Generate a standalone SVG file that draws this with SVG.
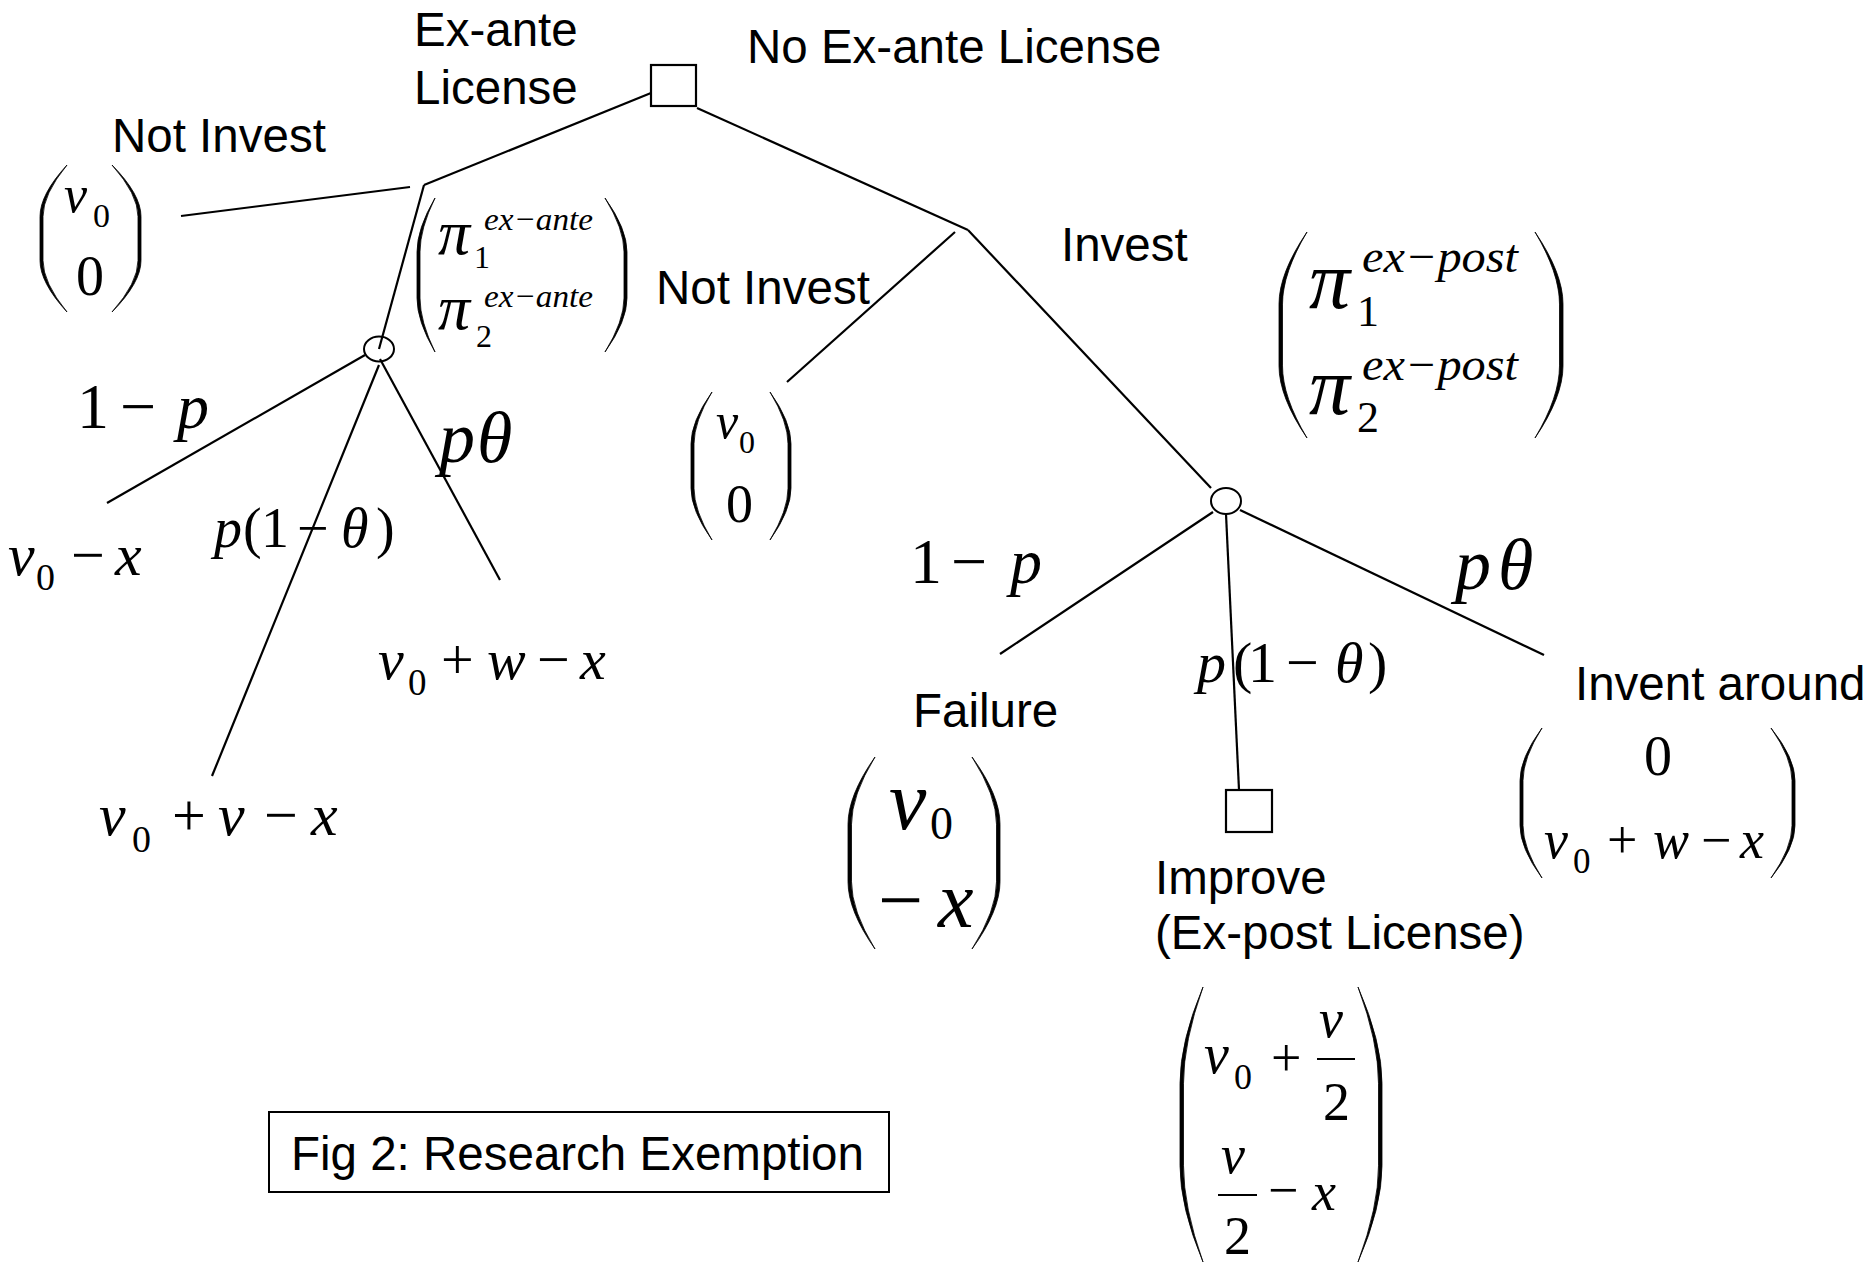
<svg xmlns="http://www.w3.org/2000/svg" width="1871" height="1263" viewBox="0 0 1871 1263">
<style>
.s{font-family:"Liberation Sans",Arial,sans-serif;font-size:47.5px;fill:#000}
.m{font-family:"Liberation Serif","Times New Roman",serif;fill:#000}
.i{font-style:italic}
.e{stroke:#000;stroke-width:2.2;fill:none}
.pf{fill:#000;stroke:#000;stroke-width:0.8}
.n{stroke:#000;stroke-width:2.2;fill:#fff}
.c{stroke:#000;stroke-width:2;fill:none}
</style>
<rect width="1871" height="1263" fill="#fff"/>
<g id="connectors">
<line class="e" x1="651" y1="93" x2="424" y2="185"/>
<line class="e" x1="410" y1="187" x2="181" y2="216"/>
<line class="e" x1="424" y1="185" x2="379" y2="349"/>
<line class="e" x1="697" y1="108" x2="968" y2="230"/>
<line class="e" x1="955" y1="232" x2="787" y2="382"/>
<line class="e" x1="968" y1="230" x2="1211" y2="488"/>
<line class="e" x1="365" y1="355" x2="107" y2="503"/>
<line class="e" x1="379" y1="365" x2="212" y2="776"/>
<line class="e" x1="380" y1="359" x2="500" y2="580"/>
<line class="e" x1="1213" y1="512" x2="1000" y2="654"/>
<line class="e" x1="1226" y1="514" x2="1239" y2="790"/>
<line class="e" x1="1240" y1="510" x2="1544" y2="655"/>
</g>
<g id="root">
<rect class="n" x="651" y="65" width="45" height="41"/>
<text class="s" x="414" y="46">Ex-ante</text>
<text class="s" x="414" y="104">License</text>
<text class="s" x="747" y="63">No Ex-ante License</text>
</g>
<g id="exante-invest">
<text class="s" x="112" y="152">Not Invest</text>
</g>
<g id="exante-notinvest-payoff">
<path class="pf" d="M67 165 Q40 194.4 40 216.5 L40 260.5 Q40 282.6 67 312 Q43 282.6 43 260.5 L43 216.5 Q43 194.4 67 165 Z"/>
<path class="pf" d="M112 165 Q141 194.4 141 216.5 L141 260.5 Q141 282.6 112 312 Q138 282.6 138 260.5 L138 216.5 Q138 194.4 112 165 Z"/>
<text class="m i" x="64" y="212" font-size="52">v</text>
<text class="m" x="93" y="227" font-size="34">0</text>
<text class="m" x="76" y="295" font-size="56">0</text>
</g>
<g id="exante-invest-payoff">
<path class="pf" d="M435 198 Q417 228.8 417 251.9 L417 298.1 Q417 321.2 435 352 Q420 321.2 420 298.1 L420 251.9 Q420 228.8 435 198 Z"/>
<path class="pf" d="M605 198 Q627 228.8 627 251.9 L627 298.1 Q627 321.2 605 352 Q624 321.2 624 298.1 L624 251.9 Q624 228.8 605 198 Z"/>
<text class="m i" x="438" y="254" font-size="64">π</text>
<text class="m" x="474" y="268" font-size="32">1</text>
<text class="m i" x="484" y="230" font-size="32" textLength="109" lengthAdjust="spacingAndGlyphs">ex−ante</text>
<text class="m i" x="438" y="329" font-size="64">π</text>
<text class="m" x="476" y="347" font-size="32">2</text>
<text class="m i" x="484" y="307" font-size="32" textLength="109" lengthAdjust="spacingAndGlyphs">ex−ante</text>
</g>
<g id="chance-left">
<ellipse class="c" cx="379" cy="349" rx="15" ry="12.5"/>
<text class="m" y="428" font-size="64"><tspan x="77">1</tspan><tspan x="120">−</tspan><tspan class="i" x="177">p</tspan></text>
<text class="m i" y="462" font-size="72"><tspan x="439">p</tspan><tspan x="477">θ</tspan></text>
<text class="m" y="547" font-size="56"><tspan class="i" x="214">p</tspan><tspan x="243">(</tspan><tspan x="261">1</tspan><tspan x="297">−</tspan><tspan class="i" x="341">θ</tspan><tspan x="376">)</tspan></text>
</g>
<g id="left-failure">
<text class="m" y="575" font-size="60"><tspan class="i" x="8">v</tspan><tspan x="71">−</tspan><tspan class="i" x="115">x</tspan></text>
<text class="m" x="36" y="590" font-size="38">0</text>
</g>
<g id="left-improve">
<text class="m" y="835" font-size="60"><tspan class="i" x="99">v</tspan><tspan x="172">+</tspan><tspan class="i" x="218">v</tspan><tspan x="264">−</tspan><tspan class="i" x="311">x</tspan></text>
<text class="m" x="132" y="852" font-size="38">0</text>
</g>
<g id="left-around">
<text class="m" y="679" font-size="58"><tspan class="i" x="378">v</tspan><tspan x="441">+</tspan><tspan class="i" x="487">w</tspan><tspan x="537">−</tspan><tspan class="i" x="580">x</tspan></text>
<text class="m" x="408" y="695" font-size="37">0</text>
</g>
<g id="noexante-notinvest">
<text class="s" x="656" y="304">Not Invest</text>
<path class="pf" d="M712 392 Q691 421.6 691 443.8 L691 488.2 Q691 510.4 712 540 Q694 510.4 694 488.2 L694 443.8 Q694 421.6 712 392 Z"/>
<path class="pf" d="M770 392 Q791 421.6 791 443.8 L791 488.2 Q791 510.4 770 540 Q788 510.4 788 488.2 L788 443.8 Q788 421.6 770 392 Z"/>
<text class="m i" x="716" y="438" font-size="50">v</text>
<text class="m" x="739" y="453" font-size="32">0</text>
<text class="m" x="726" y="522" font-size="54">0</text>
</g>
<g id="noexante-invest">
<text class="s" x="1061" y="261">Invest</text>
<path class="pf" d="M1307 232 Q1279 273.2 1279 304.1 L1279 365.9 Q1279 396.8 1307 438 Q1282.5 396.8 1282.5 365.9 L1282.5 304.1 Q1282.5 273.2 1307 232 Z"/>
<path class="pf" d="M1535 232 Q1563 273.2 1563 304.1 L1563 365.9 Q1563 396.8 1535 438 Q1559.5 396.8 1559.5 365.9 L1559.5 304.1 Q1559.5 273.2 1535 232 Z"/>
<text class="m i" x="1309" y="308" font-size="82">π</text>
<text class="m" x="1357" y="326" font-size="44">1</text>
<text class="m i" x="1362" y="272" font-size="46" textLength="156" lengthAdjust="spacingAndGlyphs">ex−post</text>
<text class="m i" x="1309" y="414" font-size="82">π</text>
<text class="m" x="1357" y="432" font-size="44">2</text>
<text class="m i" x="1362" y="380" font-size="46" textLength="156" lengthAdjust="spacingAndGlyphs">ex−post</text>
</g>
<g id="chance-right">
<ellipse class="c" cx="1226" cy="501" rx="15" ry="13"/>
<text class="m" y="583" font-size="64"><tspan x="910">1</tspan><tspan x="951">−</tspan><tspan class="i" x="1010">p</tspan></text>
<text class="m i" y="589" font-size="72"><tspan x="1455">p</tspan><tspan x="1498">θ</tspan></text>
<text class="m" y="682" font-size="58"><tspan class="i" x="1197">p</tspan><tspan x="1233">(</tspan><tspan x="1248">1</tspan><tspan x="1286">−</tspan><tspan class="i" x="1335">θ</tspan><tspan x="1368">)</tspan></text>
</g>
<g id="failure">
<text class="s" x="913" y="727">Failure</text>
<path class="pf" d="M875 757 Q848 795.4 848 824.2 L848 881.8 Q848 910.6 875 949 Q851.5 910.6 851.5 881.8 L851.5 824.2 Q851.5 795.4 875 757 Z"/>
<path class="pf" d="M972 757 Q1000 795.4 1000 824.2 L1000 881.8 Q1000 910.6 972 949 Q996.5 910.6 996.5 881.8 L996.5 824.2 Q996.5 795.4 972 757 Z"/>
<text class="m i" x="889" y="829" font-size="84">v</text>
<text class="m" x="930" y="839" font-size="46">0</text>
<text class="m" y="927" font-size="80"><tspan x="878">−</tspan><tspan class="i" x="938">x</tspan></text>
</g>
<g id="invent-around">
<text class="s" x="1575" y="700">Invent around</text>
<path class="pf" d="M1542 728 Q1520 758 1520 780.5 L1520 825.5 Q1520 848 1542 878 Q1523 848 1523 825.5 L1523 780.5 Q1523 758 1542 728 Z"/>
<path class="pf" d="M1771 728 Q1795 758 1795 780.5 L1795 825.5 Q1795 848 1771 878 Q1792 848 1792 825.5 L1792 780.5 Q1792 758 1771 728 Z"/>
<text class="m" x="1644" y="775" font-size="56">0</text>
<text class="m" y="858" font-size="54"><tspan class="i" x="1544">v</tspan><tspan x="1607">+</tspan><tspan class="i" x="1653">w</tspan><tspan x="1701">−</tspan><tspan class="i" x="1740">x</tspan></text>
<text class="m" x="1573" y="873" font-size="35">0</text>
</g>
<g id="improve">
<rect class="n" x="1226" y="790" width="46" height="42"/>
<text class="s" x="1155" y="894">Improve</text>
<text class="s" x="1155" y="949">(Ex-post License)</text>
<path class="pf" d="M1203 987 Q1180 1042 1180 1083.25 L1180 1165.75 Q1180 1207 1203 1262 Q1183.5 1207 1183.5 1165.75 L1183.5 1083.25 Q1183.5 1042 1203 987 Z"/>
<path class="pf" d="M1358 987 Q1382 1042 1382 1083.25 L1382 1165.75 Q1382 1207 1358 1262 Q1378.5 1207 1378.5 1165.75 L1378.5 1083.25 Q1378.5 1042 1358 987 Z"/>
<text class="m i" x="1204" y="1073" font-size="56">v</text>
<text class="m" x="1234" y="1089" font-size="36">0</text>
<text class="m" x="1271" y="1076" font-size="54">+</text>
<text class="m i" x="1319" y="1037" font-size="54">v</text>
<line class="e" x1="1317" y1="1059" x2="1355" y2="1059"/>
<text class="m" x="1323" y="1120" font-size="54">2</text>
<text class="m i" x="1221" y="1173" font-size="54">v</text>
<line class="e" x1="1218" y1="1195" x2="1257" y2="1195"/>
<text class="m" x="1224" y="1254" font-size="54">2</text>
<text class="m" x="1268" y="1208" font-size="54">−</text>
<text class="m i" x="1312" y="1210" font-size="54">x</text>
</g>
<g id="caption">
<rect x="269" y="1112" width="620" height="80" fill="none" stroke="#000" stroke-width="2"/>
<text class="s" x="291" y="1170">Fig 2: Research Exemption</text>
</g>
</svg>
